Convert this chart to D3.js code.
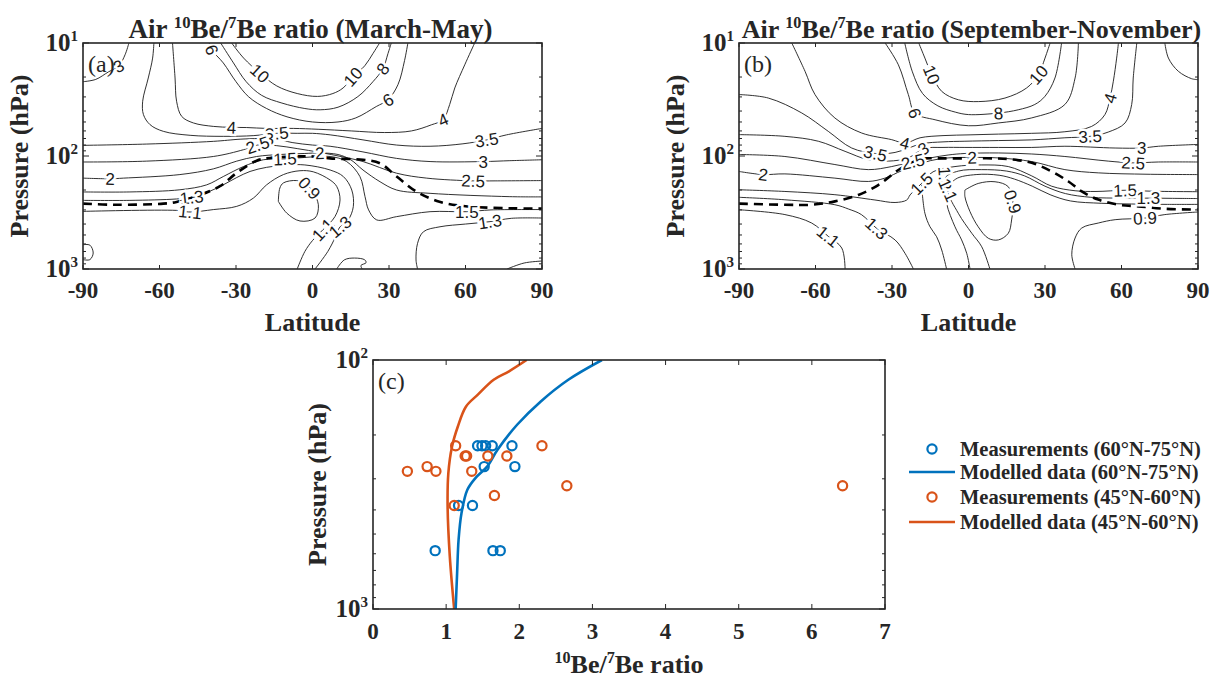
<!DOCTYPE html>
<html>
<head>
<meta charset="utf-8">
<script src="https://cdn.jsdelivr.net/npm/d3@7"></script>
<style>
body { margin: 0; background: #fff; }
text { font-family: "Liberation Serif", "Times New Roman", serif; fill: #262626; }
.clab { font-family: "Liberation Sans", Arial, sans-serif; font-size: 17px; fill: #1a1a1a; }
</style>
</head>
<body>
<svg id="fig" width="1219" height="680"></svg>
<script>
// ---------------- data ----------------
const latTicks = [-90, -60, -30, 0, 30, 60, 90];
const ratioTicks = [0, 1, 2, 3, 4, 5, 6, 7];
const presMajor = [10, 100, 1000];
const presMinor = [20, 30, 40, 50, 60, 70, 80, 90, 200, 300, 400, 500, 600, 700, 800, 900];

// March-May contour lines, [latitude, pressure hPa]
const mam_c30a = [[-90,22],[-85,21],[-80,18],[-76,16],[-73.5,12.7],[-72,10]];
const mam_c35 = [[-62.2,10],[-62.7,13.6],[-64.4,20.4],[-66.6,32.8],[-66.3,43],[-63.7,52.8],[-58.5,60.5],[-48,65.6],[-35,67],[-23,66],[-14,63],[-6,63],[0,63],[6.9,65],[19.8,72],[33,80],[46.1,82],[59,78],[68.3,72],[76.1,65],[90,57]];
const mam_c40 = [[-54.9,10],[-53.9,20.4],[-53.3,32.8],[-51.3,44.6],[-46.7,51],[-38.9,54.7],[-31.7,55.8],[-25.8,56],[-18,57],[-7.5,57],[2.2,58],[15.2,60],[28.3,62],[38.8,60],[46.6,53],[51.2,47.7],[53.8,35],[55.8,25],[59.7,15.6],[63.6,10]];
const mam_c60 = [[-40.5,10],[-39.5,11.5],[-35,15],[-30,22],[-25,30],[-18,38],[-10,45],[0,50],[10,50],[17,46],[25,36.5],[29.6,31.8],[33.5,23.4],[36.1,14.3],[37.4,10]];
const mam_c80 = [[-36,10],[-31,15],[-26,22],[-20,29],[-12,34],[-3,38],[3,39],[10,37],[17.8,29.8],[23.7,22],[27.6,16.9],[29.6,12.4],[30.9,10]];
const mam_c100 = [[-31.7,10],[-27,13.6],[-20.6,18.5],[-14,24],[-6,28],[2,29.7],[8,28],[12,25],[15.9,19.9],[20.5,15.9],[23.7,12.4],[26.3,10]];
const mam_c30 = [[-90,80.5],[-65,78.4],[-38.9,74.2],[-28.4,71],[-21,70],[-15,70],[-8,76],[0,80],[6.9,82],[19.8,92],[33,105],[46.1,112],[67,112],[77.4,110],[90,108]];
const mam_c25 = [[-90,113],[-65,111],[-38.9,101],[-27.1,88],[-21.5,80],[-14,81],[-6,86],[3,93],[12,102],[19.8,112],[33,142],[44.8,157],[63,166],[71.6,166],[90,165]];
const mam_c20 = [[-90,157],[-79.4,159],[-74.2,157],[-52,146],[-38.9,130],[-29.7,111],[-21.9,101],[-12.8,97],[-3,95],[2.9,94],[10,97],[15,108],[19.8,133],[26.5,169],[33,200],[46.1,214],[77.4,229],[90,230]];
const mam_c15 = [[-90,208],[-71.6,208],[-52,199],[-41.5,180],[-35,152],[-27.1,124],[-19.3,108],[-10.8,106],[-3,103],[6.9,101],[13.4,112],[18.6,152],[20.6,229],[22,300],[25.2,368],[33,344],[46.1,311],[60.5,311],[70,300],[90,298]];
const mam_c13 = [[-90,247],[-71.6,247],[-53.3,240],[-47.4,232],[-40.9,208],[-35,180],[-29.7,155],[-24.5,137],[-18,126],[-10,120],[-3,120],[6.9,133],[12.1,152],[15.4,200],[16,281],[14,368],[10.8,423],[9,520],[6,700],[1,1000]];
const mam_c11 = [[-90,309],[-53.3,303],[-48,313],[-38.9,298],[-29.7,279],[-23.2,236],[-18,180],[-11.4,146],[-4.9,135],[0.3,138],[6.9,163],[9.5,186],[10.8,245],[8.8,344],[4.1,449],[0,560],[-3,700],[-6,1000]];
const mam_c13r = [[90,354],[78,356],[69.6,381],[60,400],[50,423],[43.5,468],[41.2,593],[40.6,832],[41.2,1000]];
const mam_c09 = [[-13.4,252],[-12.8,192],[-11.4,173],[-6.2,165],[-2.5,178],[0,205],[2.3,270],[1,354],[-4.9,376],[-10.1,320],[-13.4,252]];
const mam_loopSW = [[-90,610],[-87.3,615],[-86,722],[-87.3,826],[-90,826]];
const mam_blob = [[9.5,1000],[12.5,830],[16.5,800],[20.5,830],[21,880],[19,930],[19.5,1000]];
const mam_corner = [[76.3,1000],[83,885],[90,850]];
const mam_tropo = [[-90,264],[-78,270],[-58.5,264],[-53.3,255],[-46.7,232],[-36.3,185],[-29.7,141],[-21.9,110],[-16.7,104],[-7.5,101],[0.3,101],[6.9,105],[19.8,108],[26.5,116],[33,152],[40.8,207],[49.8,254],[58.9,277],[77.4,290],[90,292]];
const mam_labels = [["3",-76,16],["6",-39.5,11.5],["10",-20.6,18.5],["10",15.9,19.9],["8",27.6,16.9],["6",29.6,31.8],
  ["4",-31.7,55.8],["4",51.2,47.7],["3.5",-14,63],["3",-17,70],["2.5",-21.5,80],["3.5",68.3,72],["3",67,112],["2.5",63,166],
  ["2",-79.4,159],["2",2.9,94],["1.5",-10.8,106],["1.5",60.5,311],["1.3",-47.4,232],["1.1",-48,313],["1.3",69.6,381],
  ["0.9",-1.2,192],["1.1",4.1,449],["1.3",10.8,423]];

// September-November contour lines
const son_c40 = [[-69.3,10],[-64.1,17.8],[-60.2,28.6],[-52.4,46.1],[-41.9,62.6],[-30.1,71.7],[-24.9,77],[-19,69],[-10,66],[0.6,65],[11.7,64],[24.8,63],[37.8,61],[48.3,54.7],[53.5,43],[55.5,30.7],[56.8,21.8],[58.1,13.6],[58.8,10]];
const son_c35 = [[-90,28.6],[-78.5,30.7],[-65.4,41.6],[-55,60.5],[-45.8,85],[-36.5,95],[-28.8,93],[-18.4,78],[-10,75],[-1.4,74],[11.7,73],[24.8,72],[37.8,69],[47.7,67],[54.8,61.4],[61.4,51],[64,35],[64.6,20.4],[66,10]];
const son_c30 = [[-90,64.7],[-72,67],[-58.9,74],[-48.4,91],[-39.3,108],[-31.4,111],[-23.6,104],[-17.7,86],[-10,84],[-1.4,84],[11.7,84],[24.8,84],[37.8,82],[57.5,85],[67.9,85],[74.5,82],[90,79]];
const son_c25 = [[-90,97],[-72,101],[-52.4,119],[-39.3,132],[-30.1,124],[-21.8,112],[-15,104],[-8,98],[-1.4,95],[11.7,94],[24.8,96],[37.8,101],[54.8,111],[64.6,115],[74.5,113],[90,113]];
const son_c20 = [[-90,137],[-80.5,146],[-72,144],[-52.4,157],[-39.3,168],[-32.8,157],[-26.2,135],[-21,122],[-15,110],[-8,104],[1.4,103],[11.7,104],[24.8,112],[37.8,132],[50.9,141],[70,145],[90,146]];
const son_c15 = [[-90,199],[-72,206],[-52.4,220],[-36.7,245],[-28.8,258],[-24.2,245],[-22.9,221],[-18.4,175],[-13.9,138],[-5.3,124],[5,120],[15.6,124],[24.8,150],[32.6,185],[41.8,203],[50,206],[61.4,201],[72,205],[90,207]];
const son_c15b = [[-18.4,180],[-17.1,321],[-15.1,423],[-12.5,518],[-10.5,679],[-8.6,1000]];
const son_c13 = [[0.6,1000],[-0.7,726],[-2.7,553],[-5.3,423],[-8.6,262],[-9.2,157],[-4,136],[5,132],[15,136],[22,150],[30,185],[38,215],[48,232],[60,236],[70.5,236],[80,237],[90,238]];
const son_c11 = [[8.4,1000],[5.2,636],[1.3,483],[-4,321],[-8,200],[-5,160],[3,146],[12,148],[18,160],[25,185],[32,220],[40,250],[52,262],[64,266],[78,268],[90,268]];
const son_c13l = [[-90,232],[-72,244],[-52.4,270],[-47,295],[-42,330],[-36,437],[-28.8,553],[-24.9,726],[-21.6,1000]];
const son_c11l = [[-90,299],[-72,330],[-61.5,392],[-55,514],[-49.7,652],[-48.4,1000]];
const son_c09 = [[-1.4,200],[3.8,175],[10.4,169],[15.6,187],[17.4,254],[16.9,368],[15.6,483],[11.7,553],[7.8,535],[3.8,423],[0.6,311],[-1.4,229],[-1.4,200]];
const son_c09r = [[41.8,1000],[40.5,747],[41.8,532],[44.4,434],[50.9,392],[57.5,366],[69.2,354],[77,330],[90,313]];
const son_c60 = [[-32.7,10],[-27.5,15.6],[-23.6,28.6],[-21,41.7],[-13.1,47.8],[0,54],[11.7,51],[24.8,46],[37.8,35],[41.8,20.4],[43.1,10]];
const son_c80 = [[-25,10],[-22,18],[-18,28],[-12,36],[-5,41],[0,43],[11.7,41.7],[19.5,39],[26,35],[30,29.6],[33.9,20.4],[36.5,10]];
const son_c100 = [[-19.5,10],[-17.1,13.6],[-14.4,19.1],[-10.5,26.8],[-4,31.8],[4,33],[14.3,30.7],[22.8,25],[27.4,19.1],[30,13.6],[32,10]];
const son_corner = [[77,10],[78.4,13.6],[82.3,17.8],[87.5,20.7],[90,21.1]];
const son_tropo = [[-90,264],[-72,270],[-61.5,270],[-52.4,252],[-43.2,221],[-35.4,181],[-27.5,133],[-19.7,108],[-17,105],[-10.5,105],[0,105],[10.4,105],[17,107],[24.8,115],[32.6,137],[39.2,168],[44.4,206],[50.9,243],[58.8,270],[66.6,279],[77,293],[90,298]];
const son_labels = [["3.5",-36.5,95],["4",-24.9,77],["3",-17.7,86],["2.5",-21.8,112],["2",-80.5,146],["2",1.4,103],
  ["10",-14.4,19.1],["6",-21,41.7],["8",11.7,41.7],["10",27.4,19.1],["4",55.5,30.7],["3.5",47.7,67],["3",67.9,85],
  ["2.5",64.6,115],["1.5",61.4,201],["1.3",70.5,236],["0.9",69.2,354],["0.9",17.4,254],["1.5",-18.4,175],
  ["1.3",-9.2,157],["1.1",-8,200],["1.3",-36,437],["1.1",-55,514]];

// panel (c): measurements and model profiles
const meas6075_ratio = [1.43, 1.49, 1.54, 1.63, 1.90, 1.52, 1.94, 1.17, 1.36, 0.85, 1.64, 1.74];
const meas6075_pres  = [221, 221, 221, 221, 221, 268, 268, 384, 384, 583, 583, 583];
const meas4560_ratio = [1.13, 2.31, 1.26, 1.28, 1.57, 1.83, 0.74, 0.47, 0.86, 1.35, 2.65, 6.42, 1.66, 1.11];
const meas4560_pres  = [221, 221, 243, 243, 243, 243, 268, 280, 280, 280, 320, 320, 350, 384];
const model6075_ratio = [1.13, 1.15, 1.17, 1.21, 1.29, 1.40, 1.56, 1.70, 1.97, 2.29, 2.67, 3.13];
const model6075_pres  = [1000, 718, 527, 412, 332, 298, 268, 230, 182, 147, 120, 100];
const model4560_ratio = [1.11, 1.05, 1.02, 1.03, 1.08, 1.16, 1.27, 1.43, 1.65, 1.86, 2.10];
const model4560_pres  = [1000, 615, 387, 285, 223, 185, 154, 138, 120, 111, 100];

const legendNames = ["Measurements (60°N-75°N)", "Modelled data (60°N-75°N)",
                     "Measurements (45°N-60°N)", "Modelled data (45°N-60°N)"];

// ---------------- drawing ----------------
const svg = d3.select("#fig");
const defs = svg.append("defs");
const BLUE = "#0072BD", ORANGE = "#D95319", AX = "#262626";

function pow10(sel, exp) {
    sel.append("tspan").text("10");
    sel.append("tspan").attr("dy", -10).attr("font-size", 15).text(exp);
}

function supText(sel, parts, size) {
    // parts: [text, isSup]
    let up = false;
    parts.forEach(p => {
        const t = sel.append("tspan").text(p[0]);
        if (p[1] && !up) { t.attr("dy", -size * 0.38).attr("font-size", size * 0.62); up = true; }
        else if (p[1]) { t.attr("font-size", size * 0.62); }
        else if (up) { t.attr("dy", size * 0.38); up = false; }
    });
}

function logTicks(g, y, x0, x1, major, minor, majLen, minLen) {
    major.forEach(v => {
        g.append("line").attr("x1", x0).attr("x2", x0 + majLen).attr("y1", y(v)).attr("y2", y(v));
        g.append("line").attr("x1", x1).attr("x2", x1 - majLen).attr("y1", y(v)).attr("y2", y(v));
    });
    minor.forEach(v => {
        g.append("line").attr("x1", x0).attr("x2", x0 + minLen).attr("y1", y(v)).attr("y2", y(v));
        g.append("line").attr("x1", x1).attr("x2", x1 - minLen).attr("y1", y(v)).attr("y2", y(v));
    });
}

function nearestAngle(px, py, lines, x, y) {
    let best = Infinity, ang = 0;
    lines.forEach(l => {
        for (let i = 0; i < l.length - 1; i++) {
            const ax = x(l[i][0]), ay = y(l[i][1]), bx = x(l[i+1][0]), by = y(l[i+1][1]);
            const dx = bx - ax, dy = by - ay;
            const t = Math.max(0, Math.min(1, ((px - ax) * dx + (py - ay) * dy) / (dx * dx + dy * dy || 1)));
            const d = Math.hypot(ax + t * dx - px, ay + t * dy - py);
            if (d < best) { best = d; ang = Math.atan2(dy, dx) * 180 / Math.PI; }
        }
    });
    if (ang > 90) ang -= 180;
    if (ang < -90) ang += 180;
    return ang;
}

function contourPanel(o) {
    const x = d3.scaleLinear().domain([-90, 90]).range([o.left, o.right]);
    const y = d3.scaleLog().domain([10, 1000]).range([o.top, o.bottom]);
    const g = svg.append("g");

    defs.append("clipPath").attr("id", o.id).append("rect")
        .attr("x", o.left).attr("y", o.top)
        .attr("width", o.right - o.left).attr("height", o.bottom - o.top);

    const line = d3.line()
        .x(d => x(d[0])).y(d => y(d[1]))
        .curve(d3.curveCatmullRom.alpha(0.5));

    const plot = g.append("g").attr("clip-path", "url(#" + o.id + ")");
    plot.selectAll("path.cl")
        .data(o.lines)
        .enter()
        .append("path")
            .attr("class", "cl")
            .attr("d", line)
            .attr("fill", "none")
            .attr("stroke", "#1a1a1a")
            .attr("stroke-width", 0.9);

    plot.append("path")
        .datum(o.tropo)
        .attr("d", line)
        .attr("fill", "none")
        .attr("stroke", "#000")
        .attr("stroke-width", 2.6)
        .attr("stroke-dasharray", "9,6");

    // contour labels with a white gap round them
    o.labels.forEach(l => {
        const px = x(l[1]), py = y(l[2]);
        const a = nearestAngle(px, py, o.lines, x, y);
        const tr = `rotate(${a}, ${px}, ${py})`;
        plot.append("text").attr("class", "clab")
            .attr("x", px).attr("y", py).attr("dy", "0.36em")
            .attr("text-anchor", "middle").attr("transform", tr)
            .attr("stroke", "#fff").attr("stroke-width", 5).attr("fill", "#fff")
            .text(l[0]);
        plot.append("text").attr("class", "clab")
            .attr("x", px).attr("y", py).attr("dy", "0.36em")
            .attr("text-anchor", "middle").attr("transform", tr)
            .text(l[0]);
    });

    // box and ticks
    const ax = g.append("g").attr("stroke", AX);
    latTicks.forEach(v => {
        ax.append("line").attr("x1", x(v)).attr("x2", x(v)).attr("y1", o.bottom).attr("y2", o.bottom - 4);
        ax.append("line").attr("x1", x(v)).attr("x2", x(v)).attr("y1", o.top).attr("y2", o.top + 4);
    });
    logTicks(ax, y, o.left, o.right, presMajor, presMinor, 6, 3);
    g.append("rect")
        .attr("x", o.left).attr("y", o.top)
        .attr("width", o.right - o.left).attr("height", o.bottom - o.top)
        .attr("fill", "none").attr("stroke", AX).attr("stroke-width", 1.6);

    g.selectAll("text.xt")
        .data(latTicks)
        .enter()
        .append("text")
            .attr("class", "xt")
            .attr("x", d => x(d)).attr("y", o.bottom + 29)
            .attr("text-anchor", "middle")
            .attr("font-size", 23).attr("font-weight", "bold")
            .text(d => d);

    presMajor.forEach((v, i) => {
        const t = g.append("text")
            .attr("x", o.left - 5).attr("y", y(v) + 8)
            .attr("text-anchor", "end")
            .attr("font-size", 25).attr("font-weight", "bold");
        pow10(t, String(i + 1));
    });

    g.append("text")
        .attr("x", (o.left + o.right) / 2).attr("y", o.bottom + 62)
        .attr("text-anchor", "middle")
        .attr("font-size", 26).attr("font-weight", "bold")
        .text("Latitude");

    g.append("text")
        .attr("transform", `translate(${o.left - 55}, ${(o.top + o.bottom) / 2}) rotate(-90)`)
        .attr("text-anchor", "middle")
        .attr("font-size", 26).attr("font-weight", "bold")
        .text("Pressure (hPa)");

    const tt = g.append("text")
        .attr("x", (o.left + o.right) / 2 + o.titleShift).attr("y", 38)
        .attr("text-anchor", "middle")
        .attr("font-size", o.titleSize).attr("font-weight", "bold");
    supText(tt, [["Air ", false], ["10", true], ["Be/", false], ["7", true], ["Be ratio (" + o.season + ")", false]], o.titleSize);

    g.append("text")
        .attr("x", o.left + 5).attr("y", o.top + 29)
        .attr("font-size", 24)
        .text(o.tag);
}

contourPanel({
    id: "clipA", left: 83, right: 542, top: 43, bottom: 269,
    lines: [mam_c30a, mam_c35, mam_c40, mam_c60, mam_c80, mam_c100, mam_c30, mam_c25, mam_c20, mam_c15,
            mam_c13, mam_c11, mam_c13r, mam_c09, mam_loopSW, mam_blob, mam_corner],
    tropo: mam_tropo, labels: mam_labels, season: "March-May", tag: "(a)",
    titleSize: 27, titleShift: -2
});

contourPanel({
    id: "clipB", left: 739, right: 1198, top: 43, bottom: 269,
    lines: [son_c40, son_c35, son_c30, son_c25, son_c20, son_c15, son_c15b, son_c13, son_c11, son_c13l, son_c11l,
            son_c09, son_c09r, son_c60, son_c80, son_c100, son_corner],
    tropo: son_tropo, labels: son_labels, season: "September-November", tag: "(b)",
    titleSize: 26, titleShift: 3
});

// ---------------- panel (c) ----------------
(function () {
    const left = 373, right = 885, top = 360, bottom = 609;
    const x = d3.scaleLinear().domain([0, 7]).range([left, right]);
    const y = d3.scaleLog().domain([100, 1000]).range([top, bottom]);
    const g = svg.append("g");

    defs.append("clipPath").attr("id", "clipC").append("rect")
        .attr("x", left).attr("y", top).attr("width", right - left).attr("height", bottom - top);

    const line = d3.line().x(d => x(d[0])).y(d => y(d[1])).curve(d3.curveCatmullRom.alpha(0.5));
    const plot = g.append("g").attr("clip-path", "url(#clipC)");

    const prof6075 = model6075_ratio.map((r, i) => [r, model6075_pres[i]]);
    const prof4560 = model4560_ratio.map((r, i) => [r, model4560_pres[i]]);
    plot.append("path").datum(prof4560).attr("d", line)
        .attr("fill", "none").attr("stroke", ORANGE).attr("stroke-width", 2.6);
    plot.append("path").datum(prof6075).attr("d", line)
        .attr("fill", "none").attr("stroke", BLUE).attr("stroke-width", 2.6);

    plot.selectAll("circle.b")
        .data(meas6075_ratio.map((r, i) => [r, meas6075_pres[i]]))
        .enter()
        .append("circle")
            .attr("cx", d => x(d[0])).attr("cy", d => y(d[1])).attr("r", 4.6)
            .attr("fill", "none").attr("stroke", BLUE).attr("stroke-width", 2.2);
    plot.selectAll("circle.o")
        .data(meas4560_ratio.map((r, i) => [r, meas4560_pres[i]]))
        .enter()
        .append("circle")
            .attr("cx", d => x(d[0])).attr("cy", d => y(d[1])).attr("r", 4.6)
            .attr("fill", "none").attr("stroke", ORANGE).attr("stroke-width", 2.2);

    const ax = g.append("g").attr("stroke", AX);
    ratioTicks.forEach(v => {
        ax.append("line").attr("x1", x(v)).attr("x2", x(v)).attr("y1", bottom).attr("y2", bottom - 5);
        ax.append("line").attr("x1", x(v)).attr("x2", x(v)).attr("y1", top).attr("y2", top + 5);
    });
    logTicks(ax, y, left, right, [100, 1000], presMinor.filter(v => v > 100), 6, 3);
    g.append("rect").attr("x", left).attr("y", top)
        .attr("width", right - left).attr("height", bottom - top)
        .attr("fill", "none").attr("stroke", AX).attr("stroke-width", 1.6);

    g.selectAll("text.xt")
        .data(ratioTicks)
        .enter()
        .append("text")
            .attr("x", d => x(d)).attr("y", bottom + 30)
            .attr("text-anchor", "middle")
            .attr("font-size", 23).attr("font-weight", "bold")
            .text(d => d);

    [[100, "2"], [1000, "3"]].forEach(d => {
        const t = g.append("text")
            .attr("x", left - 5).attr("y", y(d[0]) + 8)
            .attr("text-anchor", "end")
            .attr("font-size", 25).attr("font-weight", "bold");
        pow10(t, d[1]);
    });

    const xl = g.append("text")
        .attr("x", (left + right) / 2).attr("y", bottom + 64)
        .attr("text-anchor", "middle")
        .attr("font-size", 26).attr("font-weight", "bold");
    supText(xl, [["10", true], ["Be/", false], ["7", true], ["Be ratio", false]], 26);

    g.append("text")
        .attr("transform", `translate(${left - 47}, ${(top + bottom) / 2}) rotate(-90)`)
        .attr("text-anchor", "middle")
        .attr("font-size", 26).attr("font-weight", "bold")
        .text("Pressure (hPa)");

    g.append("text").attr("x", left + 5).attr("y", top + 29).attr("font-size", 24).text("(c)");

    // legend
    const lg = g.append("g");
    const rows = [449, 472, 497, 522];
    const cols = [BLUE, BLUE, ORANGE, ORANGE];
    legendNames.forEach((name, i) => {
        if (i % 2 === 0) {
            lg.append("circle").attr("cx", 932).attr("cy", rows[i]).attr("r", 4.6)
                .attr("fill", "none").attr("stroke", cols[i]).attr("stroke-width", 2.2);
        } else {
            lg.append("line").attr("x1", 909).attr("x2", 955).attr("y1", rows[i]).attr("y2", rows[i])
                .attr("stroke", cols[i]).attr("stroke-width", 2.6);
        }
        lg.append("text").attr("x", 960).attr("y", rows[i] + 7)
            .attr("font-size", 20.5).attr("font-weight", "bold").text(name);
    });
})();
</script>
</body>
</html>
